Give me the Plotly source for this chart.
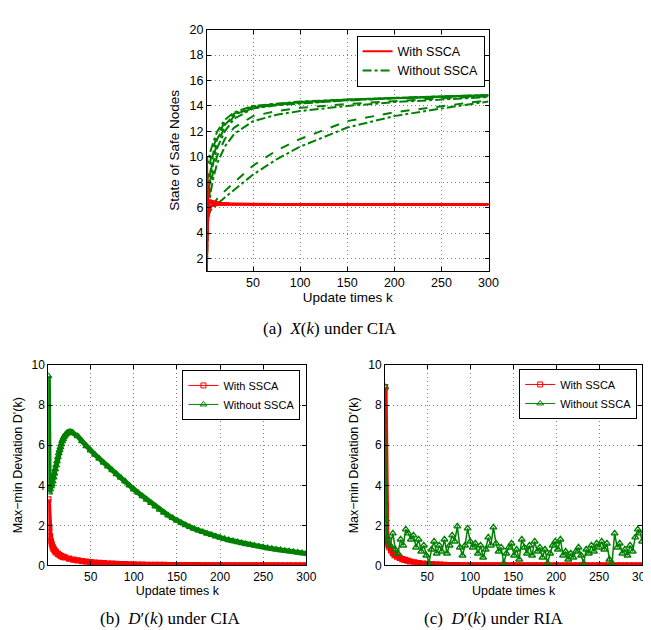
import plotly.graph_objects as go

# ---------------- (a) X(k) under CIA ----------------
K_WITHOUT = [1, 2, 3, 5, 8, 12, 20, 30, 50, 75, 100, 150, 200, 250, 300]
without_n1 = [10.0, 9.5, 9.8, 10.5, 11.2, 12.0, 12.9, 13.5, 14.0, 14.2, 14.35, 14.5, 14.65, 14.75, 14.85]
without_n2 = [8.0, 8.3, 8.8, 9.8, 10.8, 11.7, 12.7, 13.4, 13.95, 14.15, 14.3, 14.5, 14.65, 14.75, 14.85]
without_n3 = [7.0, 7.5, 8.2, 9.3, 10.4, 11.4, 12.5, 13.3, 13.9, 14.1, 14.3, 14.5, 14.6, 14.75, 14.85]
without_n4 = [6.0, 6.8, 7.6, 8.8, 10.0, 11.1, 12.3, 13.2, 13.85, 14.1, 14.25, 14.45, 14.6, 14.7, 14.8]
without_n5 = [5.0, 6.2, 7.2, 8.4, 9.6, 10.7, 12.0, 13.0, 13.8, 14.05, 14.2, 14.45, 14.6, 14.7, 14.8]
without_n6 = [4.0, 5.5, 6.5, 7.8, 9.0, 10.1, 11.4, 12.3, 13.2, 13.6, 13.85, 14.15, 14.4, 14.6, 14.75]
without_n7 = [3.0, 5.0, 6.0, 7.2, 8.4, 9.5, 10.8, 11.8, 12.8, 13.3, 13.6, 14.0, 14.3, 14.5, 14.7]
without_n8 = [2.0, 5.2, 5.7, 6.0, 6.3, 6.7, 7.3, 8.0, 9.3, 10.5, 11.4, 12.8, 13.5, 14.0, 14.45]
without_n9 = [1.0, 4.8, 5.4, 5.8, 6.0, 6.3, 6.8, 7.4, 8.6, 9.8, 10.8, 12.3, 13.2, 13.8, 14.35]
WITHOUT_DASHES = ["dashdot", "dash", "dashdot", "dash", "dashdot", "dash", "dashdot", "dash", "dashdot"]

K_WITH = [1, 2, 3, 4, 5, 7, 10, 15, 25, 50, 100, 300]
with_n1 = [1.0, 4.8, 5.5, 5.9, 6.05, 6.15, 6.2, 6.23, 6.25, 6.25, 6.25, 6.25]
with_n2 = [2.0, 5.3, 5.8, 6.0, 6.1, 6.18, 6.22, 6.24, 6.25, 6.25, 6.25, 6.25]
with_n3 = [4.0, 5.7, 6.0, 6.1, 6.15, 6.2, 6.23, 6.25, 6.26, 6.25, 6.25, 6.25]
with_n4 = [6.0, 6.3, 6.4, 6.42, 6.42, 6.4, 6.37, 6.33, 6.3, 6.27, 6.26, 6.25]
with_n5 = [8.0, 6.5, 6.55, 6.55, 6.52, 6.48, 6.42, 6.36, 6.32, 6.28, 6.26, 6.25]
with_n6 = [10.0, 6.7, 6.6, 6.6, 6.58, 6.52, 6.45, 6.38, 6.33, 6.29, 6.26, 6.25]
with_n7 = [9.0, 6.2, 6.3, 6.35, 6.38, 6.36, 6.33, 6.3, 6.28, 6.26, 6.25, 6.25]
with_n8 = [3.0, 5.5, 5.9, 6.05, 6.12, 6.18, 6.22, 6.24, 6.25, 6.25, 6.25, 6.25]

# ---------------- (b) D'(k) under CIA ----------------
K_CIA_WITHOUT = [1, 2, 3, 4, 5, 6, 7, 8, 9, 10, 11, 12, 13, 14, 15, 16, 17, 18, 19, 20,
                 21, 22, 23, 24, 25, 26, 27, 28, 29, 30,
                 35, 40, 45, 50, 55, 60, 65, 70, 75, 80, 85, 90, 95, 100,
                 105, 110, 115, 120, 125, 130, 135, 140, 145, 150, 155, 160, 165, 170, 175, 180,
                 185, 190, 195, 200, 205, 210, 215, 220, 225, 230, 235, 240, 245, 250,
                 255, 260, 265, 270, 275, 280, 285, 290, 295, 300]
D_CIA_WITHOUT = [9.45, 3.65, 3.8, 3.95, 4.05, 4.2, 4.4, 4.6, 4.8, 5.0, 5.2, 5.4, 5.6, 5.75, 5.9, 6.05, 6.2, 6.3, 6.4, 6.48,
                 6.54, 6.58, 6.62, 6.64, 6.65, 6.66, 6.65, 6.64, 6.62, 6.6,
                 6.45, 6.2, 5.95, 5.74, 5.53, 5.33, 5.13, 4.94, 4.75, 4.56, 4.38, 4.2, 3.99, 3.8,
                 3.63, 3.46, 3.29, 3.12, 2.95, 2.79, 2.64, 2.5, 2.37, 2.24, 2.12, 2.01, 1.92, 1.83, 1.75, 1.67,
                 1.59, 1.52, 1.45, 1.39, 1.33, 1.27, 1.22, 1.17, 1.12, 1.07, 1.03, 0.99, 0.95, 0.91,
                 0.87, 0.84, 0.8, 0.77, 0.74, 0.71, 0.68, 0.65, 0.62, 0.6]

K_CIA_WITH = [1, 2, 3, 4, 5, 6, 7, 8, 9, 10, 12, 14, 16, 18, 20, 25, 30, 35, 40, 45, 50,
              55, 60, 65, 70, 75, 80, 85, 90, 95, 100, 105, 110, 115, 120, 125, 130, 135, 140, 145, 150,
              155, 160, 165, 170, 175, 180, 185, 190, 195, 200, 205, 210, 215, 220, 225, 230, 235, 240,
              245, 250, 255, 260, 265, 270, 275, 280, 285, 290, 295, 300]
D_CIA_WITH = [3.3, 1.9, 1.45, 1.2, 1.05, 0.92, 0.83, 0.76, 0.7, 0.65, 0.58, 0.52, 0.47, 0.43, 0.4, 0.34, 0.29, 0.25, 0.22, 0.19, 0.17,
              0.15, 0.13, 0.115, 0.1, 0.09, 0.08, 0.07, 0.065, 0.057, 0.05, 0.045, 0.041, 0.037, 0.034, 0.031, 0.028, 0.026, 0.024, 0.022, 0.02,
              0.018, 0.017, 0.015, 0.014, 0.013, 0.012, 0.011, 0.01, 0.009, 0.008, 0.008, 0.007, 0.007, 0.006, 0.006, 0.005, 0.005, 0.005,
              0.004, 0.004, 0.004, 0.003, 0.003, 0.003, 0.003, 0.002, 0.002, 0.002, 0.002, 0.002]

# ---------------- (c) D'(k) under RIA ----------------
K_RIA_WITHOUT = [1, 2, 3, 4, 7, 10, 13, 16, 19, 22, 25, 28, 31, 34, 37, 40, 43, 46, 49, 52, 55, 58, 61, 64, 67, 70,
                 73, 76, 79, 82, 85, 88, 91, 94, 97, 100, 103, 106, 109, 112, 115, 118, 121, 124, 127, 130,
                 133, 136, 139, 142, 145, 148, 151, 154, 157, 160, 163, 166, 169, 172, 175, 178, 181, 184, 187, 190,
                 193, 196, 199, 202, 205, 208, 211, 214, 217, 220, 223, 226, 229, 232, 235, 238, 241, 244, 247, 250,
                 253, 256, 259, 262, 265, 268, 271, 274, 277, 280, 283, 286, 289, 292, 295, 298, 300]
D_RIA_WITHOUT = [8.9, 2.3, 1.2, 1.4, 1.0, 1.6, 0.8, 0.6, 1.3, 1.0, 1.8, 1.6, 1.3, 1.5, 0.9, 1.3, 0.7, 1.0, 0.5, 0.12, 0.8, 1.2, 0.6, 1.0, 0.7, 1.3,
                 0.6, 1.0, 1.5, 1.2, 1.95, 0.9, 0.5, 1.0, 1.85, 1.2, 0.9, 1.1, 0.6, 1.0, 0.4, 0.8, 1.4, 1.0, 1.9, 1.1,
                 0.7, 0.9, 0.12, 0.6, 0.9, 1.1, 0.5, 0.8, 0.3, 1.3, 0.9, 0.6, 1.0, 0.5, 1.2, 0.7, 0.9, 0.4, 0.8, 0.12,
                 0.6, 1.0, 1.2, 0.8, 1.3, 0.5, 0.7, 0.3, 0.6, 0.4, 0.7, 0.9, 0.5, 0.12, 0.8, 0.6, 1.0, 0.7, 1.1, 0.9,
                 1.2, 0.8, 1.1, 0.3, 0.12, 1.6, 0.9, 1.1, 0.6, 0.8, 0.5, 1.0, 0.7, 1.4, 1.8, 1.6, 1.2]

K_RIA_WITH = [1, 2, 3, 4, 5, 6, 8, 10, 12, 15, 18, 21, 24, 27, 30, 35, 40, 45, 50, 55, 60, 65, 70, 75, 80, 85, 90, 95, 100,
              105, 110, 115, 120, 125, 130, 135, 140, 145, 150, 155, 160, 165, 170, 175, 180, 185, 190, 195, 200,
              205, 210, 215, 220, 225, 230, 235, 240, 245, 250, 255, 260, 265, 270, 275, 280, 285, 290, 295, 300]
D_RIA_WITH = [8.9, 3.0, 1.25, 1.1, 1.0, 0.9, 0.75, 0.62, 0.52, 0.44, 0.38, 0.32, 0.28, 0.24, 0.2, 0.16, 0.12, 0.1, 0.08, 0.065, 0.05, 0.04, 0.03, 0.025, 0.02, 0.015, 0.012, 0.01, 0.008,
              0.007, 0.006, 0.005, 0.005, 0.004, 0.004, 0.003, 0.003, 0.003, 0.002, 0.002, 0.002, 0.002, 0.001, 0.001, 0.001, 0.001, 0.001, 0.001, 0.001,
              0.001, 0.001, 0.001, 0.001, 0.001, 0.001, 0.001, 0.001, 0.001, 0.001, 0.001, 0.001, 0.001, 0.001, 0.001, 0.001, 0.001, 0.001, 0.001, 0.001]

X_TICKS = [50, 100, 150, 200, 250, 300]
Y_TICKS_A = [2, 4, 6, 8, 10, 12, 14, 16, 18, 20]
Y_TICKS_BC = [0, 2, 4, 6, 8, 10]

RED = "#ff0000"
GREEN = "#008000"
SANS = "Liberation Sans, Arial, sans-serif"
SERIF = "Liberation Serif, Times New Roman, serif"

fig = go.Figure()

# (a) traces
for i, ys in enumerate([without_n1, without_n2, without_n3, without_n4, without_n5,
                        without_n6, without_n7, without_n8, without_n9]):
    fig.add_trace(go.Scatter(x=K_WITHOUT, y=ys, mode="lines", xaxis="x", yaxis="y",
                             line=dict(color=GREEN, width=2, dash=WITHOUT_DASHES[i]),
                             name="Without SSCA", legend="legend", showlegend=False))
for i, ys in enumerate([with_n1, with_n2, with_n3, with_n4, with_n5, with_n6, with_n7, with_n8]):
    fig.add_trace(go.Scatter(x=K_WITH, y=ys, mode="lines", xaxis="x", yaxis="y",
                             line=dict(color=RED, width=2),
                             name="With SSCA", legend="legend", showlegend=False))
fig.add_trace(go.Scatter(x=[None], y=[None], mode="lines", xaxis="x", yaxis="y",
                         line=dict(color=RED, width=2), name="With SSCA", legend="legend"))
fig.add_trace(go.Scatter(x=[None], y=[None], mode="lines", xaxis="x", yaxis="y",
                         line=dict(color=GREEN, width=2, dash="dashdot"), name="Without SSCA", legend="legend"))


def band(xs, ys, color, symbol, size, xa, ya):
    # thick band under the markers (dense markers in the original)
    fig.add_trace(go.Scatter(x=xs, y=ys, mode="lines", xaxis=xa, yaxis=ya,
                             line=dict(color=color, width=5), showlegend=False, hoverinfo="skip"))
    fig.add_trace(go.Scatter(x=xs, y=ys, mode="lines+markers", xaxis=xa, yaxis=ya,
                             line=dict(color=color, width=1),
                             marker=dict(symbol=symbol, size=size, color=color, line=dict(width=1.2, color=color)),
                             showlegend=False))


def legend_entry(name, color, symbol, size, xa, ya, leg):
    fig.add_trace(go.Scatter(x=[None], y=[None], mode="lines+markers", xaxis=xa, yaxis=ya,
                             line=dict(color=color, width=1),
                             marker=dict(symbol=symbol, size=size, color=color, line=dict(width=1, color=color)),
                             name=name, legend=leg))


# (b)
band(K_CIA_WITH, D_CIA_WITH, RED, "square-open", 5, "x2", "y2")
band(K_CIA_WITHOUT, D_CIA_WITHOUT, GREEN, "triangle-up-open", 6, "x2", "y2")
legend_entry("With SSCA", RED, "square-open", 5, "x2", "y2", "legend2")
legend_entry("Without SSCA", GREEN, "triangle-up-open", 6, "x2", "y2", "legend2")

# (c)
band(K_RIA_WITH, D_RIA_WITH, RED, "square-open", 5, "x3", "y3")
fig.add_trace(go.Scatter(x=K_RIA_WITHOUT, y=D_RIA_WITHOUT, mode="lines+markers", xaxis="x3", yaxis="y3",
                         line=dict(color=GREEN, width=1.5),
                         marker=dict(symbol="triangle-up-open", size=6, color=GREEN, line=dict(width=1.4, color=GREEN)),
                         showlegend=False))
legend_entry("With SSCA", RED, "square-open", 5, "x3", "y3", "legend3")
legend_entry("Without SSCA", GREEN, "triangle-up-open", 6, "x3", "y3", "legend3")

W, H = 651, 630


def px_x(p):
    return p / W


def px_y(p):
    return 1 - p / H


GRID = "#808080"
GRID_DASH = "1px,3px"


def xax(dom, size, tsize):
    return dict(domain=dom, range=[1, 300], tickvals=X_TICKS, showline=True, linecolor="black",
                linewidth=1, mirror="ticks", ticks="inside", ticklen=4, tickcolor="black",
                showgrid=True, gridcolor=GRID, griddash=GRID_DASH, gridwidth=1, zeroline=False,
                tickfont=dict(family=SANS, size=size, color="black"),
                title=dict(text="Update times k", font=dict(family=SANS, size=tsize, color="black"),
                           standoff=2))


def yax(dom, rng, tv, title, size, tsize, anchor):
    return dict(domain=dom, range=rng, tickvals=tv, showline=True, linecolor="black",
                linewidth=1, mirror="ticks", ticks="inside", ticklen=4, tickcolor="black",
                showgrid=True, gridcolor=GRID, griddash=GRID_DASH, gridwidth=1, zeroline=False,
                tickfont=dict(family=SANS, size=size, color="black"), anchor=anchor,
                title=dict(text=title, font=dict(family=SANS, size=tsize, color="black"), standoff=6))


legend_common = dict(bgcolor="white", bordercolor="black", borderwidth=1, xanchor="right", yanchor="top",
                     tracegroupgap=0, itemwidth=30)

fig.update_layout(
    width=W, height=H, margin=dict(l=0, r=0, t=0, b=0),
    paper_bgcolor="white", plot_bgcolor="white",
    xaxis=dict(**xax([px_x(202), px_x(488)], 12.5, 13.5), anchor="y"),
    yaxis=yax([px_y(262), px_y(15)], [1, 20], Y_TICKS_A, "State of Safe Nodes", 12.5, 13.5, "x"),
    xaxis2=dict(**xax([px_x(41), px_x(303)], 12, 12.5), anchor="y2"),
    yaxis2=yax([px_y(563), px_y(358)], [0, 10], Y_TICKS_BC, "Max\u2212min Deviation D'(k)", 12, 12.5, "x2"),
    xaxis3=dict(**xax([px_x(383), px_x(644)], 12, 12.5), anchor="y3"),
    yaxis3=yax([px_y(563), px_y(358)], [0, 10], Y_TICKS_BC, "Max\u2212min Deviation D'(k)", 12, 12.5, "x3"),
    legend=dict(x=px_x(484), y=px_y(21), font=dict(family=SANS, size=12.5, color="black"), **legend_common),
    legend2=dict(x=px_x(297), y=px_y(363), font=dict(family=SANS, size=11, color="black"), **legend_common),
    legend3=dict(x=px_x(639), y=px_y(362), font=dict(family=SANS, size=11, color="black"), **legend_common),
    annotations=[
        dict(text="(a)  <i>X</i>(<i>k</i>) under CIA", x=px_x(327), y=px_y(321), xref="paper", yref="paper",
             showarrow=False, font=dict(family=SERIF, size=17, color="black"), xanchor="center", yanchor="middle"),
        dict(text="(b)  <i>D</i>\u2032(<i>k</i>) under CIA", x=px_x(165), y=px_y(617), xref="paper", yref="paper",
             showarrow=False, font=dict(family=SERIF, size=17, color="black"), xanchor="center", yanchor="middle"),
        dict(text="(c)  <i>D</i>\u2032(<i>k</i>) under RIA", x=px_x(493), y=px_y(617), xref="paper", yref="paper",
             showarrow=False, font=dict(family=SERIF, size=17, color="black"), xanchor="center", yanchor="middle"),
    ],
)

fig.write_html("out.html")
